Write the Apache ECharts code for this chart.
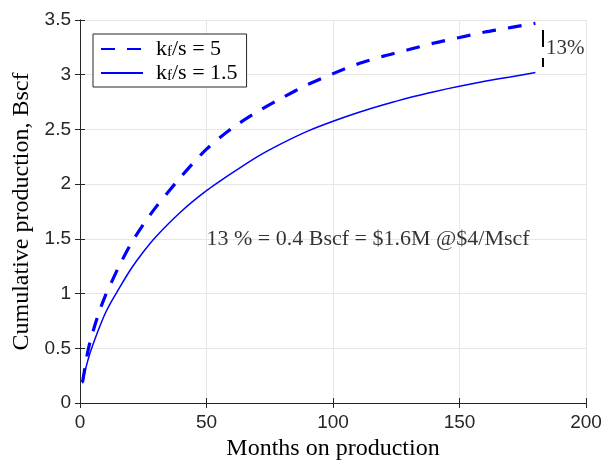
<!DOCTYPE html>
<html>
<head>
<meta charset="utf-8">
<script src="https://cdn.jsdelivr.net/npm/echarts@6/dist/echarts.min.js"></script>
<style>html,body{margin:0;padding:0;background:#fff;}#chart{width:603px;height:461px;}</style>
</head>
<body>
<div id="chart"></div>
<script>
var months = [1, 2, 3, 4, 6, 8, 10, 12, 15, 20, 25, 30, 40, 50, 60, 70, 80, 90, 100, 110, 120, 130, 140, 150, 160, 170, 180];
var kfs5 = [0.19, 0.33, 0.46, 0.56, 0.72, 0.86, 0.98, 1.08, 1.23, 1.45, 1.63, 1.79, 2.07, 2.32, 2.51, 2.66, 2.79, 2.91, 3.01, 3.10, 3.17, 3.23, 3.29, 3.34, 3.39, 3.43, 3.47];
var kfs15 = [0.18, 0.29, 0.38, 0.46, 0.59, 0.71, 0.82, 0.91, 1.03, 1.22, 1.38, 1.52, 1.75, 1.94, 2.10, 2.25, 2.375, 2.485, 2.575, 2.655, 2.725, 2.79, 2.845, 2.895, 2.94, 2.98, 3.02];
var gapX = [183, 183];
var gapY = [3.07, 3.41];
var gapLabel = '13%';
var noteText = '13 % = 0.4 Bscf = $1.6M @$4/Mscf';
var noteAt = [50, 1.5];
var xTitle = 'Months on production';
var yTitle = 'Cumulative production, Bscf';

var serif = '"Liberation Serif", "Times New Roman", serif';
var sans = '"Liberation Sans", Arial, Helvetica, sans-serif';
var axisCol = '#262626';

function pairs(xs, ys) { return xs.map(function (x, i) { return [x, ys[i]]; }); }

var chart = echarts.init(document.getElementById('chart'));
function axisCommon() {
  return {
    axisLine: { show: true, lineStyle: { color: axisCol, width: 1 } },
    axisTick: { show: true, inside: true, length: 5, lineStyle: { color: axisCol } }
  };
}
var option = {
  animation: false,
  backgroundColor: '#fff',
  grid: { left: 80, right: 17, top: 20, bottom: 58, containLabel: false, outerBoundsMode: 'none' },
  xAxis: [
    Object.assign({ type: 'value', min: 0, max: 200, interval: 50, position: 'bottom',
      name: xTitle, nameLocation: 'middle', nameGap: 33,
      nameTextStyle: { fontFamily: serif, fontSize: 24, color: '#000' },
      axisLabel: { fontFamily: sans, fontSize: 19, color: '#262626', margin: 10 },
      splitLine: { show: true, lineStyle: { color: '#e6e6e6', width: 1 } }
    }, axisCommon()),
    Object.assign({ type: 'value', min: 0, max: 200, interval: 50, position: 'top',
      axisLabel: { show: false }, splitLine: { show: false }
    }, axisCommon())
  ],
  yAxis: [
    Object.assign({ type: 'value', min: 0, max: 3.5, interval: 0.5, position: 'left',
      name: yTitle, nameLocation: 'middle', nameGap: 45, nameRotate: 90,
      nameTextStyle: { fontFamily: serif, fontSize: 24, color: '#000' },
      axisLabel: { fontFamily: sans, fontSize: 19, color: '#262626', margin: 9 },
      splitLine: { show: true, lineStyle: { color: '#e6e6e6', width: 1 } }
    }, axisCommon()),
    Object.assign({ type: 'value', min: 0, max: 3.5, interval: 0.5, position: 'right',
      axisLabel: { show: false }, splitLine: { show: false }
    }, axisCommon())
  ],
  legend: {
    left: 93, top: 34, orient: 'vertical', itemGap: 2,
    itemWidth: 42, itemHeight: 20,
    padding: [4, 9, 3, 7],
    borderColor: '#262626', borderWidth: 1, backgroundColor: '#fff',
    itemStyle: { opacity: 0, color: 'transparent', borderWidth: 0 },
    data: ['kfs5', 'kfs15'],
    formatter: function (n) {
      return n === 'kfs5' ? '{a|k}{s|f}{a|/s = 5}' : '{a|k}{s|f}{a|/s = 1.5}';
    },
    textStyle: {
      fontFamily: serif, fontSize: 22, color: '#000', padding: [0, 0, 0, 8],
      rich: {
        a: { fontFamily: serif, fontSize: 22, color: '#000' },
        s: { fontFamily: serif, fontSize: 15, color: '#000', padding: [6, 0, 0, 0] }
      }
    }
  },
  series: [
    {
      name: 'kfs5', type: 'line', data: pairs(months, kfs5), smooth: 0.25,
      showSymbol: false, symbol: 'none',
      lineStyle: { color: '#0000ff', width: 3.2, type: [14, 12] },
      itemStyle: { color: '#0000ff' }
    },
    {
      name: 'kfs15', type: 'line', data: pairs(months, kfs15), smooth: 0.25,
      showSymbol: false, symbol: 'none',
      lineStyle: { color: '#0000ff', width: 1.5 },
      itemStyle: { color: '#0000ff' }
    },
    {
      name: 'gap', type: 'line', data: pairs(gapX, gapY),
      showSymbol: false, symbol: 'none', silent: true,
      lineStyle: { color: '#000', width: 2, type: [9, 11, 17, 100] }
    },
    {
      name: 'labels', type: 'scatter', symbolSize: 0, silent: true,
      data: [
        { value: [gapX[0], (gapY[0] + gapY[1]) / 2], label: { show: true, formatter: gapLabel, position: 'right', distance: 3, fontFamily: serif, fontSize: 21, color: '#000' } },
        { value: noteAt, label: { show: true, formatter: noteText, position: 'right', distance: 0, fontFamily: serif, fontSize: 22, color: '#000' } }
      ]
    }
  ]
};
chart.setOption(option);
</script>
</body>
</html>
